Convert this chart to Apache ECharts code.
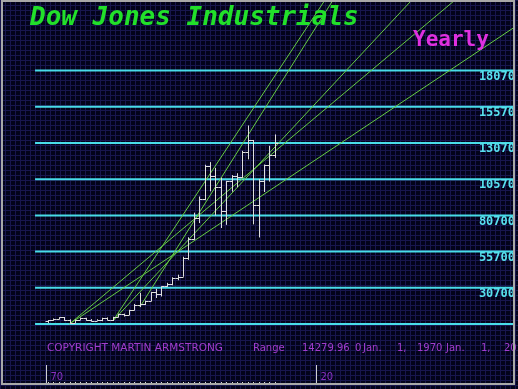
<!DOCTYPE html>
<html><head><meta charset="utf-8">
<script src="https://cdn.jsdelivr.net/npm/echarts@6/dist/echarts.min.js"></script>
<style>html,body{margin:0;padding:0;background:#000;}#c{width:518px;height:389px;}</style>
</head><body><div id="c"></div>
<script>
// ---- data ----
const years = [1970,1971,1972,1973,1974,1975,1976,1977,1978,1979,1980,1981,1982,1983,1984,1985,1986,1987,1988,1989,1990,1991,1992,1993,1994,1995,1996,1997,1998,1999,2000,2001,2002,2003,2004,2005,2006,2007,2008,2009,2010,2011,2012];
const opens  = [800,839,890,1020,851,616,852,1005,831,805,839,964,875,1047,1259,1212,1547,1896,1939,2169,2753,2634,3169,3301,3754,3834,5117,6448,7908,9181,11497,10787,10021,8342,10454,10783,10718,12463,13265,8776,10428,11578,12218];
const highs  = [842,951,1036,1052,892,882,1015,1000,907,898,1000,1024,1070,1287,1287,1553,1956,2722,2184,2791,3000,3168,3413,3794,3978,5216,6560,8259,9374,11568,11750,11350,10673,10454,10854,10984,12529,14280,13279,10580,11585,12876,13661];
const lows   = [631,798,889,788,577,632,845,800,742,796,759,824,776,1027,1087,1185,1502,1739,1879,2145,2365,2470,3136,3242,3593,3832,5000,6391,7539,9120,9731,8062,7197,7416,9708,10012,10661,11939,7449,6547,9686,10404,12035];
const closes = [839,890,1020,851,616,852,1005,831,805,839,964,875,1047,1259,1212,1547,1896,1939,2169,2753,2634,3169,3301,3754,3834,5117,6448,7908,9181,11497,10787,10021,8342,10454,10783,10718,12463,13265,8776,10428,11578,12218,13104];
const levels = [570,3070,5570,8070,10570,13070,15570,18070];
const levelLabels = ['','30700','55700','80700','10570','13070','15570','18070'];
const decadeYears = [1970,2020];
const decadeLabels = ['70','20'];
const trendLines = [
  [[1982,776],[2021.3,22950]],
  [[1987,1739],[2022.8,22950]],
  [[1982,776],[2037.4,22950]],
  [[1974,577],[2045.4,22950]],
  [[1974,577],[2072.2,25000]]
];

// ---- layout ----
const XMIN = 1961.667, XMAX = 2056.296, YMIN = -3574, YMAX = 22807;

const pat = document.createElement('canvas');
pat.width = 5; pat.height = 5;
const g = pat.getContext('2d');
g.fillStyle = '#03031a'; g.fillRect(0,0,5,5);
g.fillStyle = '#18164e'; g.fillRect(0,0,5,1); g.fillRect(0,0,1,5);

const chart = echarts.init(document.getElementById('c'));
const series = [];

// horizontal cyan levels
series.push({
  type:'custom', z:3, clip:false,
  data: levels.map((v,i)=>[v,i]),
  renderItem(params, api){
    const v = api.value(0), i = api.value(1);
    const a = api.coord([1967.6, v]), b = api.coord([XMAX, v]);
    return {type:'group', children:[
      {type:'line', shape:{x1:a[0],y1:a[1],x2:b[0],y2:b[1]}, style:{stroke:'#48dce8', lineWidth:2}},
      {type:'text', style:{text:levelLabels[i], x:b[0]+1, y:a[1]+6, align:'right', verticalAlign:'middle',
        fill:'#58e0ee', font:'bold 12px "DejaVu Sans Mono"'}}
    ]};
  }
});

// trend lines
trendLines.forEach(tl=>{
  series.push({type:'line', data:tl, symbol:'none', clip:true, z:4, silent:true,
    lineStyle:{color:'#66cc44', width:1}});
});

// OHLC bars
series.push({
  type:'custom', z:5,
  data: years.map((y,i)=>[y, opens[i], highs[i], lows[i], closes[i]]),
  renderItem(params, api){
    const x = api.value(0);
    const o = api.coord([x, api.value(1)]), h = api.coord([x, api.value(2)]),
          l = api.coord([x, api.value(3)]), c = api.coord([x, api.value(4)]);
    const cx = Math.round(o[0]) + 0.5;
    const st = {stroke:'#dedede', lineWidth:1};
    return {type:'group', children:[
      {type:'line', shape:{x1:cx,y1:h[1],x2:cx,y2:l[1]}, style:st},
      {type:'line', shape:{x1:cx-3,y1:Math.round(o[1])+0.5,x2:cx,y2:Math.round(o[1])+0.5}, style:st},
      {type:'line', shape:{x1:cx,y1:Math.round(c[1])+0.5,x2:cx+3,y2:Math.round(c[1])+0.5}, style:st}
    ]};
  }
});

// bottom year ticks
series.push({
  type:'custom', z:6, clip:false,
  data: years.map(y=>[y]),
  renderItem(params, api){
    const p = api.coord([api.value(0), YMIN]);
    return {type:'rect', shape:{x:Math.round(p[0]), y:p[1]-2, width:1, height:2}, style:{fill:'#d8d8d8'}};
  }
});

// decade marks
series.push({
  type:'custom', z:6, clip:false,
  data: decadeYears.map((y,i)=>[y,i]),
  renderItem(params, api){
    const p = api.coord([api.value(0), YMIN]);
    const x = Math.round(p[0]) - 1.5;
    return {type:'group', children:[
      {type:'line', shape:{x1:x,y1:p[1]-19,x2:x,y2:p[1]}, style:{stroke:'#d0d0d0', lineWidth:1}},
      {type:'text', style:{text:decadeLabels[api.value(1)], x:x+4, y:p[1]-7, verticalAlign:'middle',
        fill:'#8a30c0', font:'10px "DejaVu Sans"'}}
    ]};
  }
});

const txt = (t,x,y,fill,font)=>({type:'text', z:50, style:{text:t, x:x, y:y, fill:fill, font:font, verticalAlign:'middle'}});
const smallFont = '10px "DejaVu Sans"';
const purple = '#a23ccc';

chart.setOption({
  animation:false,
  backgroundColor:'#000',
  grid:{left:3, right:4, top:2, bottom:5},
  xAxis:{type:'value', min:XMIN, max:XMAX, show:false},
  yAxis:{type:'value', min:YMIN, max:YMAX, show:false},
  graphic:[
    {type:'rect', z:-100, silent:true, shape:{x:0,y:0,width:518,height:389}, style:{fill:{image:pat, repeat:'repeat'}}},
    txt('Dow Jones Industrials', 30, 18, '#22e02a', 'italic bold 26px "DejaVu Sans Mono"'),
    txt('Yearly', 413, 41, '#e030e0', 'bold 21px "DejaVu Sans Mono"'),
    txt('COPYRIGHT MARTIN ARMSTRONG', 47, 348, purple, '10.5px "DejaVu Sans"'),
    txt('Range', 253, 348, purple, smallFont),
    txt('14279.96', 302, 348, purple, smallFont),
    txt('0', 355, 348, purple, smallFont),
    txt('Jan.', 363, 348, purple, smallFont),
    txt('1,', 397, 348, purple, smallFont),
    txt('1970', 417, 348, purple, smallFont),
    txt('Jan.', 446, 348, purple, smallFont),
    txt('1,', 481, 348, purple, smallFont),
    txt('20', 504, 348, purple, smallFont),
    {type:'rect', z:60, silent:true, shape:{x:2,y:1,width:512,height:383}, style:{fill:null, stroke:'#a8a8a8', lineWidth:2}}
  ],
  series: series
});
</script></body></html>
